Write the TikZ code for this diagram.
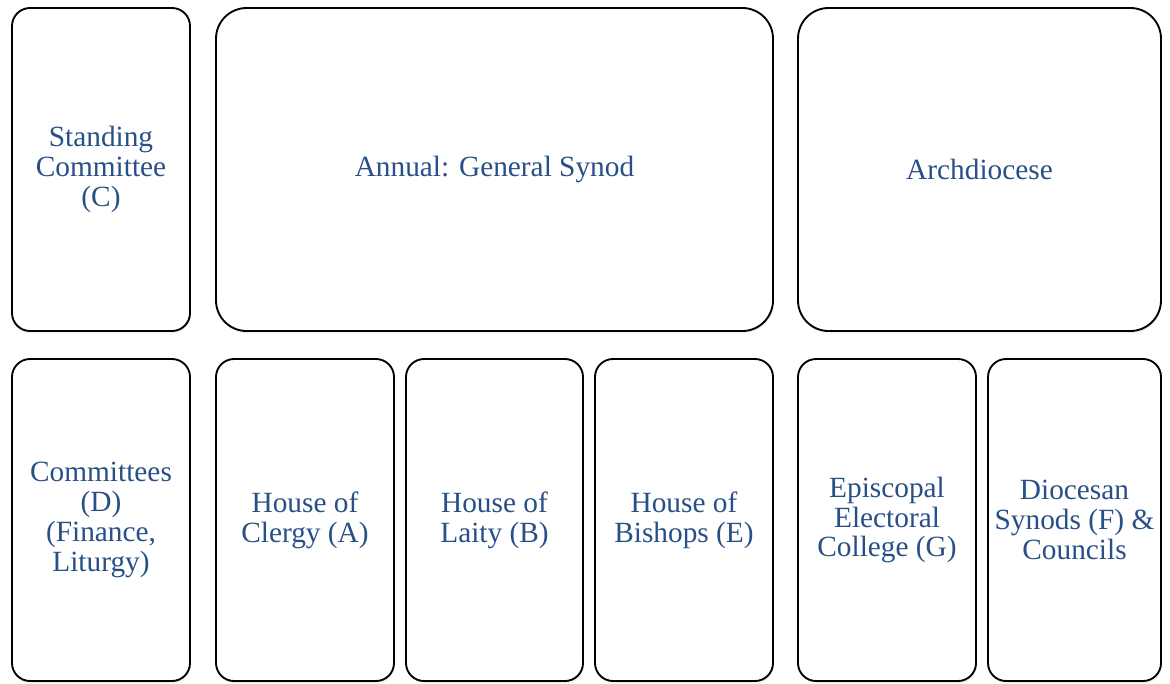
\documentclass[tikz,border=0pt]{standalone}
\usepackage{fontspec}
\setmainfont{Liberation Serif}
\usetikzlibrary{shadows}
\definecolor{labelblue}{RGB}{40,80,135}
\tikzset{
  panel/.style={draw=black, line width=1.4pt, fill=white, rectangle,
    inner sep=0pt, align=center, text=labelblue,
    font=\fontsize{22pt}{22.3pt}\selectfont,
    drop shadow={opacity=0.12, shadow xshift=0.6pt, shadow yshift=-1.8pt}},
  small/.style={panel, rounded corners=13.5pt},
  large/.style={panel, rounded corners=23pt}
}
\begin{document}
\begin{tikzpicture}[x=0.75pt,y=-0.75pt]
\useasboundingbox (0,0) rectangle (1170,683);
% top row
\node[small, minimum width=133.5pt, minimum height=242.25pt] (C) at (101,169.5)
  {Standing\\Committee\\(C)};
\node[large, minimum width=417.75pt, minimum height=242.25pt] (GS) at (494.5,169.5)
  {Annual: General Synod};
\node[large, minimum width=272.25pt, minimum height=242.25pt] (AD) at (979.5,169.5)
  {Archdiocese};
% bottom row
\node[small, minimum width=133.5pt, minimum height=241.5pt] (D) at (101,520)
  {Committees\\(D)\\(Finance,\\Liturgy)};
\node[small, minimum width=133.5pt, minimum height=241.5pt] (A) at (305,520)
  {House of\\Clergy (A)};
\node[small, minimum width=132.75pt, minimum height=241.5pt] (B) at (494.5,520)
  {House of\\Laity (B)};
\node[small, minimum width=133.5pt, minimum height=241.5pt] (E) at (684,520)
  {House of\\Bishops (E)};
\node[small, minimum width=133.5pt, minimum height=241.5pt] (G) at (887,520)
  {Episcopal\\Electoral\\College (G)};
\node[small, minimum width=129.75pt, minimum height=241.5pt] (F) at (1074.5,520)
  {Diocesan\\Synods (F) \&\\Councils};
\end{tikzpicture}
\end{document}
